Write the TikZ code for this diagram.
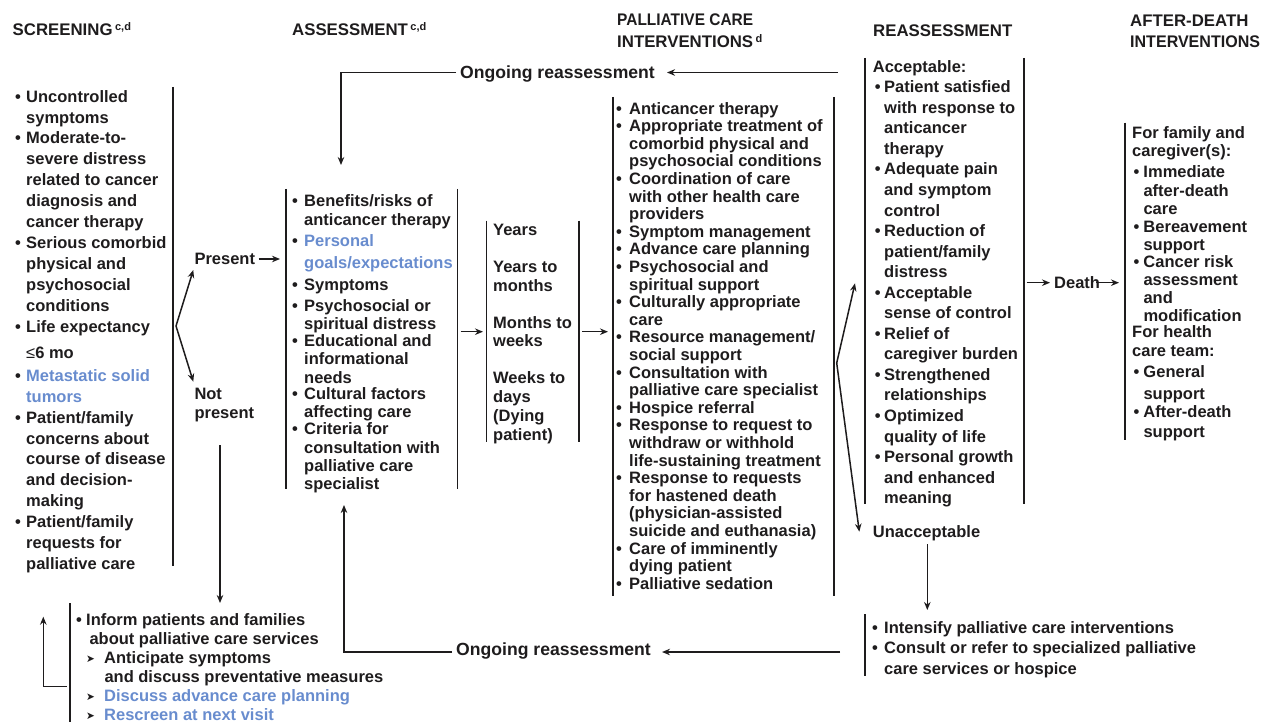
\documentclass[tikz,border=0pt]{standalone}
\usepackage{fontspec}
\setmainfont{Liberation Sans}
\newfontfamily\djv{DejaVu Sans}
\usepackage{graphicx}
\usetikzlibrary{arrows.meta}
\definecolor{ink}{RGB}{30,28,29}
\definecolor{hl}{RGB}{104,140,206}
\newlength\bulw \setlength\bulw{12pt}
\newlength\bulo \setlength\bulo{0pt}
\newcommand{\bul}{\makebox[\bulw][l]{\hspace*{\bulo}\textbullet}}
\newcommand{\cont}{\hspace*{\bulw}}
\newcommand{\fsz}[1]{\fontsize{16.5}{#1}\selectfont\bfseries}
\newcommand{\supx}[1]{\hspace{2.5pt}\raisebox{5.5pt}{\fontsize{11}{11}\selectfont #1}}
\newcommand{\tri}{\makebox[18pt][l]{\raisebox{1pt}{\djv\fontsize{10.5}{10.5}\selectfont ➤}}}
\begin{document}
\begin{tikzpicture}[x=1pt,y=-1pt,
  every node/.style={text=ink, inner sep=0pt},
  txt/.style={align=left, anchor=north west},
  one/.style={anchor=base west, font=\fsz{20}},
  ong/.style={anchor=base west, font=\fontsize{17.6}{20}\selectfont\bfseries},
  hd/.style={anchor=base west, font=\fontsize{16.8}{20}\selectfont\bfseries},
  ln/.style={line width=1.5pt, draw=ink},
  arr/.style={line width=1.5pt, draw=ink, -{Stealth[length=8pt,width=6.5pt]}}]
\useasboundingbox (0,0) rectangle (1261,722);

% headers
\node[hd] (hscr) at (12.5,36) {SCREENING\supx{c,d}};
\node[hd] (hass) at (292,36) {ASSESSMENT\supx{c,d}};
\node[hd, xscale=0.92] (hpal1) at (617,26) {PALLIATIVE CARE};
\node[hd] (hpal2) at (617,48) {INTERVENTIONS\supx{d}};
\node[hd] (hrea) at (873,37) {REASSESSMENT};
\node[hd] (haft1) at (1130,27) {AFTER-DEATH};
\node[hd, xscale=0.955] (haft2) at (1130,48) {INTERVENTIONS};

% screening
\setlength\bulw{11pt}
\node[txt, font=\fsz{20.9}] (scr) at (15,90) {%
\bul Uncontrolled\\
\cont symptoms\\
\bul Moderate-to-\\
\cont severe distress\\
\cont related to cancer\\
\cont diagnosis and\\
\cont cancer therapy\\
\bul Serious comorbid\\
\cont physical and\\
\cont psychosocial\\
\cont conditions\\
\bul Life expectancy\\[6pt]
\cont{\mdseries ≤}6 mo\\[1.5pt]
\bul\textcolor{hl}{Metastatic solid}\\
\cont\textcolor{hl}{tumors}\\
\bul Patient/family\\
\cont concerns about\\
\cont course of disease\\
\cont and decision-\\
\cont making\\
\bul Patient/family\\
\cont requests for\\
\cont palliative care};

\node[one] (pres) at (194.3,265) {Present};
\node[txt, font=\fsz{19}] (npres) at (194.3,388) {Not\\present};

% assessment
\setlength\bulw{12pt}
\node[txt, font=\fsz{18}] (ass) at (292,194.5) {%
\bul Benefits/risks of\\[0.6pt]
\cont anticancer therapy\\[3.7pt]
\bul\textcolor{hl}{Personal}\\[3.7pt]
\cont\textcolor{hl}{goals/expectations}\\[4.3pt]
\bul Symptoms\\[3pt]
\bul Psychosocial or\\[-0.7pt]
\cont spiritual distress\\[-0.6pt]
\bul Educational and\\[0.3pt]
\cont informational\\[0.3pt]
\cont needs\\[-2pt]
\bul Cultural factors\\[0.4pt]
\cont affecting care\\[-1.4pt]
\bul Criteria for\\[1.4pt]
\cont consultation with\\
\cont palliative care\\[0.3pt]
\cont specialist};

% time
\node[txt, font=\fsz{18.7}] (time) at (493,224) {Years\\[18.3pt]
Years to\\ months\\[18.3pt]
Months to\\ weeks\\[18.3pt]
Weeks to\\ days\\ (Dying\\ patient)};

% palliative care interventions
\setlength\bulw{13pt}
\node[txt, font=\fsz{17.6}] (pal) at (616,102) {%
\bul Anticancer therapy\\
\bul Appropriate treatment of\\
\cont comorbid physical and\\
\cont psychosocial conditions\\
\bul Coordination of care\\
\cont with other health care\\
\cont providers\\
\bul Symptom management\\
\bul Advance care planning\\
\bul Psychosocial and\\
\cont spiritual support\\
\bul Culturally appropriate\\
\cont care\\
\bul Resource management/\\
\cont social support\\
\bul Consultation with\\
\cont palliative care specialist\\
\bul Hospice referral\\
\bul Response to request to\\
\cont withdraw or withhold\\
\cont life-sustaining treatment\\
\bul Response to requests\\
\cont for hastened death\\
\cont (physician-assisted\\
\cont suicide and euthanasia)\\
\bul Care of imminently\\
\cont dying patient\\
\bul Palliative sedation};

% reassessment
\setlength\bulw{11.3pt}\setlength\bulo{2pt}
\node[txt, font=\fsz{20.55}] (rea) at (872.7,60) {%
Acceptable:\\
\bul Patient satisfied\\
\cont with response to\\
\cont anticancer\\
\cont therapy\\
\bul Adequate pain\\
\cont and symptom\\
\cont control\\
\bul Reduction of\\
\cont patient/family\\
\cont distress\\
\bul Acceptable\\
\cont sense of control\\
\bul Relief of\\
\cont caregiver burden\\
\bul Strengthened\\
\cont relationships\\
\bul Optimized\\
\cont quality of life\\
\bul Personal growth\\
\cont and enhanced\\
\cont meaning};
\node[one] (unacc) at (872.7,537) {Unacceptable};
\node[one] (death) at (1054,288.5) {Death};

% after-death
\setlength\bulw{11.3pt}\setlength\bulo{1.3pt}
\node[txt, font=\fsz{18}] (aft) at (1132,126) {%
For family and\\[0.4pt]
caregiver(s):\\[3pt]
\bul Immediate\\[1pt]
\cont after-death\\
\cont care\\
\bul Bereavement\\
\cont support\\[-1pt]
\bul Cancer risk\\
\cont assessment\\
\cont and\\
\cont modification\\[-2pt]
For health\\[1pt]
care team:\\[3pt]
\bul General\\[3.6pt]
\cont support\\
\bul After-death\\[2pt]
\cont support};

% intensify
\setlength\bulw{12pt}\setlength\bulo{0pt}
\node[txt, font=\fsz{20.5}] (int) at (872,621) {%
\bul Intensify palliative care interventions\\
\bul Consult or refer to specialized palliative\\
\cont care services or hospice};

% not present box
\setlength\bulw{10pt}
\node[txt, font=\fsz{19}] (inf) at (76,613.5) {%
\bul Inform patients and families\\
\hspace*{13.3pt}about palliative care services\\
\hspace*{10pt}\tri Anticipate symptoms\\
\hspace*{28.3pt}and discuss preventative measures\\
\hspace*{10pt}\tri\textcolor{hl}{Discuss advance care planning}\\
\hspace*{10pt}\tri\textcolor{hl}{Rescreen at next visit}};

\node[ong] (ong1) at (460,79) {Ongoing reassessment};
\node[ong] (ong2) at (456,655) {Ongoing reassessment};

% bracket lines
\draw[ln] (173,87) -- (173,566);
\draw[ln] (286,189) -- (286,489);
\draw[ln] (457.7,189) -- (457.7,489);
\draw[ln] (486.7,220.7) -- (486.7,441.7);
\draw[ln] (579,220.7) -- (579,441.7);
\draw[ln] (613,97) -- (613,596);
\draw[ln] (834,97) -- (834,596);
\draw[ln] (865,58) -- (865,504);
\draw[ln] (1024,58) -- (1024,504);
\draw[ln] (1125,122.7) -- (1125,440);
\draw[ln] (865,614) -- (865,676);
\draw[ln] (70,603) -- (70,722);

% connector coordinates
\coordinate (v1) at (176,326);
\coordinate (v1a) at (193.3,270);
\coordinate (v1b) at (193.3,381.7);
\coordinate (presE) at (280,259);
\coordinate (presS) at (258.5,259);
\coordinate (at1) at (460.7,331.7);
\coordinate (at2) at (483,331.7);
\coordinate (tp1) at (582,331.7);
\coordinate (tp2) at (608,331.7);
\coordinate (v2) at (836.7,363);
\coordinate (v2a) at (855,283.3);
\coordinate (v2b) at (859.3,531.7);
\coordinate (d1) at (1026.7,282.7);
\coordinate (d2) at (1050,282.7);
\coordinate (d3) at (1096,282.7);
\coordinate (d4) at (1119,282.7);
\coordinate (un1) at (927.3,544.3);
\coordinate (un2) at (927.3,610);
\coordinate (np1) at (220,445);
\coordinate (np2) at (220,603);
\coordinate (fb1) at (66.7,686.7);
\coordinate (fb2) at (43.3,686.7);
\coordinate (fb3) at (43.3,616.7);
\coordinate (t1) at (838,72.5);
\coordinate (t2) at (667,72.5);
\coordinate (t3) at (456,72.5);
\coordinate (t4) at (341,72.5);
\coordinate (t5) at (341,165);
\coordinate (b1) at (840,652);
\coordinate (b2) at (662,652);
\coordinate (b3) at (452,652);
\coordinate (b4) at (344,652);
\coordinate (b5) at (344,505);

\draw[arr] (v1) -- (v1a);
\draw[arr] (v1) -- (v1b);
\draw[arr] (presS) -- (presE);
\draw[arr] (at1) -- (at2);
\draw[arr] (tp1) -- (tp2);
\draw[arr] (v2) -- (v2a);
\draw[arr] (v2) -- (v2b);
\draw[arr] (d1) -- (d2);
\draw[arr] (d3) -- (d4);
\draw[arr] (un1) -- (un2);
\draw[arr] (np1) -- (np2);
\draw[arr] (fb1) -- (fb2) -- (fb3);
\draw[arr] (t1) -- (t2);
\draw[arr] (t3) -- (t4) -- (t5);
\draw[arr] (b1) -- (b2);
\draw[arr] (b3) -- (b4) -- (b5);
\end{tikzpicture}
\end{document}
